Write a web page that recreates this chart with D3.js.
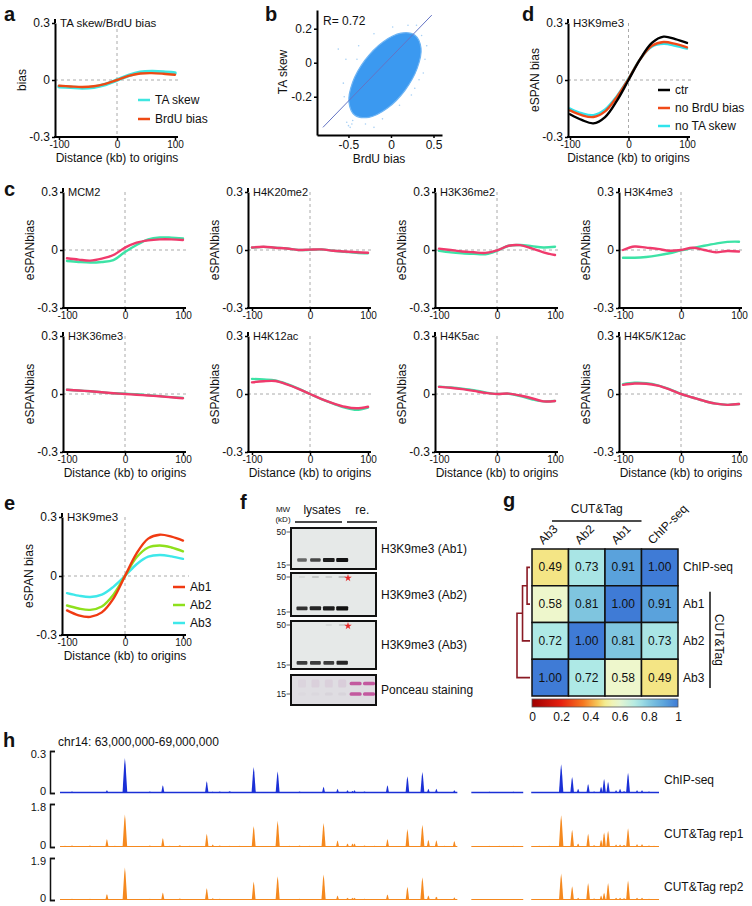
<!DOCTYPE html>
<html><head><meta charset="utf-8">
<script src="https://cdn.jsdelivr.net/npm/d3@7"></script>
<style>
body{margin:0;background:#fff;}
svg text{font-family:"Liberation Sans",Arial,Helvetica,sans-serif;fill:#111;}
</style>
</head><body>
<svg id="fig" width="752" height="906"></svg>
<script>
// ---------------- DATA ----------------
const xKb = [-100,-80,-60,-40,-20,0,20,40,60,80,100];
const xTicks = [-100,0,100];
const yTicks = [-0.3,0,0.3];

// panel a
const aTASkew = [-0.035,-0.038,-0.042,-0.038,-0.024,0,0.024,0.040,0.044,0.042,0.037];
const aBrdU   = [-0.030,-0.034,-0.037,-0.033,-0.020,0,0.022,0.034,0.036,0.033,0.028];

// panel b (outline of the dense point cloud + sparse points)
const bR = 0.72;
const bBlob = [[0.282,0.162],[0.353,0.086],[0.309,-0.032],[0.165,-0.162],[-0.044,-0.268],[-0.259,-0.321],[-0.424,-0.309],[-0.494,-0.233],[-0.451,-0.115],[-0.306,0.015],[-0.098,0.121],[0.118,0.174]];
const bOutliers = [[-0.50,-0.37],[-0.48,-0.38],[-0.46,-0.36],[-0.52,-0.35],[-0.53,0.02],[-0.55,-0.2],[-0.38,0.1],[-0.2,0.17],[0.02,0.21],[0.2,0.22],[0.36,0.16],[0.4,0.02],[0.33,-0.1],[0.24,-0.19],[0.1,-0.25],[-0.1,-0.33],[-0.3,-0.36],[-0.45,-0.34],[-0.56,-0.12],[0.42,0.1],[-0.62,0.08],[0.3,0.22],[-0.2,-0.38],[-0.4,0.02],[0.38,-0.06],[0.28,-0.15]];
const bFit = [[-0.80,-0.38],[0.48,0.28]];

// panel d
const dCtr     = [-0.180,-0.210,-0.228,-0.195,-0.110,0.000,0.110,0.195,0.228,0.215,0.195];
const dNoBrdU  = [-0.160,-0.185,-0.195,-0.165,-0.090,0.005,0.110,0.180,0.200,0.190,0.172];
const dNoTA    = [-0.150,-0.175,-0.185,-0.155,-0.085,0.008,0.110,0.175,0.190,0.180,0.165];

// panel c
const cMarks = ["MCM2","H4K20me2","H3K36me2","H3K4me3","H3K36me3","H4K12ac","H4K5ac","H4K5/K12ac"];
const cPink = [
  [-0.043,-0.050,-0.055,-0.045,-0.026,0.012,0.038,0.050,0.055,0.055,0.052],
  [0.013,0.017,0.012,0.008,0.000,0.002,0.003,-0.004,-0.008,-0.012,-0.014],
  [0.007,0.000,-0.008,-0.012,-0.015,-0.002,0.022,0.025,0.008,-0.012,-0.026],
  [0.000,0.018,0.012,0.006,-0.004,0.000,0.012,0.000,-0.012,-0.005,-0.008],
  [0.022,0.018,0.014,0.009,0.004,0.000,-0.004,-0.008,-0.012,-0.017,-0.022],
  [0.060,0.066,0.067,0.050,0.027,0.000,-0.026,-0.048,-0.066,-0.074,-0.066],
  [0.037,0.032,0.025,0.016,0.006,0.000,0.002,-0.008,-0.022,-0.038,-0.036],
  [0.047,0.054,0.053,0.043,0.024,0.000,-0.018,-0.036,-0.050,-0.056,-0.052]
];
const cGreen = [
  [-0.057,-0.062,-0.065,-0.062,-0.052,-0.010,0.026,0.055,0.065,0.064,0.060],
  [0.012,0.016,0.012,0.008,0.000,0.001,0.003,-0.004,-0.009,-0.014,-0.017],
  [-0.004,-0.012,-0.017,-0.020,-0.022,-0.004,0.022,0.026,0.020,0.013,0.017],
  [-0.040,-0.040,-0.036,-0.028,-0.017,-0.002,0.010,0.022,0.033,0.042,0.043],
  [0.022,0.018,0.014,0.009,0.004,0.002,-0.001,-0.006,-0.011,-0.016,-0.020],
  [0.078,0.075,0.070,0.052,0.028,0.000,-0.027,-0.050,-0.070,-0.082,-0.070],
  [0.038,0.034,0.028,0.020,0.008,0.000,0.001,-0.011,-0.027,-0.038,-0.036],
  [0.051,0.058,0.056,0.045,0.025,0.000,-0.018,-0.036,-0.050,-0.056,-0.052]
];

// panel e
const eAb1 = [-0.175,-0.200,-0.208,-0.185,-0.115,0.000,0.115,0.190,0.210,0.200,0.180];
const eAb2 = [-0.150,-0.165,-0.172,-0.155,-0.095,0.000,0.095,0.145,0.155,0.145,0.125];
const eAb3 = [-0.087,-0.100,-0.107,-0.095,-0.055,0.000,0.060,0.098,0.107,0.100,0.087];

// panel f (western blot band intensities per lane)
const fLanes = ["1","2","3","4","5","6"];
const fAb1Main = [0.6,0.75,0.95,1,0,0];
const fAb2Main = [0.85,0.9,0.95,1,0,0];
const fAb2High = [0.08,0.2,0.15,0.25,0,0];
const fAb3Main = [0.8,0.8,0.8,0.9,0,0];
const fAb3High = [0,0,0.08,0.15,0,0];
const fPonHigh = [0.15,0.2,0.2,0.25,0.9,0.9];
const fPonLow  = [0.04,0.05,0.1,0.1,0.9,0.9];

// panel g
const gRows = ["ChIP-seq","Ab1","Ab2","Ab3"];
const gCols = ["Ab3","Ab2","Ab1","ChIP-seq"];
const gChIP = [0.49,0.73,0.91,1.00];
const gAb1  = [0.58,0.81,1.00,0.91];
const gAb2  = [0.72,1.00,0.81,0.73];
const gAb3  = [1.00,0.72,0.58,0.49];
const gBarTicks = [0,0.2,0.4,0.6,0.8,1];

// panel h
const hPeakPos = [63.47,63.65,64.03,64.47,64.53,64.94,65.18,65.64,65.78,65.88,65.93,65.95,66.28,66.48,66.63,66.69,66.77,66.95,67.30,67.54,68.02,68.13,68.19,68.29,68.42,68.45,68.49,68.57,68.61,68.69,68.78,68.83];
const hChIP = [0.02,0.25,0.055,0.085,0.01,0.185,0.155,0.045,0.03,0.02,0.015,0.02,0.055,0.12,0.15,0.03,0.03,0.02,0.01,0.01,0.205,0.115,0.03,0.065,0.045,0.10,0.08,0.02,0.03,0.145,0.02,0.02];
const hRep1 = [0.33,1.36,0.38,0.55,0.1,0.88,1.1,1.0,0.27,0.15,0.15,0.15,0.33,0.75,0.93,0.3,0.28,0.25,0.05,0.05,1.33,0.72,0.15,0.55,0.3,0.61,0.68,0.1,0.1,0.79,0.12,0.12];
const hRep2 = [0.27,1.47,0.34,0.54,0.08,0.84,1.07,1.15,0.2,0.1,0.1,0.1,0.25,0.6,1.03,0.2,0.15,0.12,0.04,0.04,1.2,0.62,0.1,0.77,0.2,0.33,0.77,0.1,0.1,0.88,0.1,0.1];
const hNoisePos = [63.05,63.12,63.2,63.3,63.38,63.55,63.8,63.9,64.1,64.2,64.3,64.6,64.7,64.8,65.05,65.3,65.4,65.5,66.05,66.15,66.4,66.85,67.2,67.4,67.6,67.8,67.9,68.35,68.65,68.9,68.95];
const hNoiseChIP = [0.008,0.01,0.006,0.008,0.006,0.008,0.005,0.01,0.006,0.008,0.007,0.01,0.012,0.008,0.006,0.008,0.01,0.007,0.01,0.008,0.006,0.006,0.005,0.008,0.006,0.006,0.008,0.01,0.012,0.01,0.008];
const hNoiseRep = [0.05,0.06,0.04,0.06,0.04,0.05,0.04,0.06,0.05,0.07,0.05,0.06,0.05,0.05,0.04,0.05,0.06,0.05,0.06,0.05,0.04,0.05,0.04,0.05,0.04,0.05,0.05,0.07,0.08,0.06,0.05];
const hGaps = [[66.98,67.12],[67.64,67.72]];
const hTracks = ["ChIP-seq","CUT&Tag rep1","CUT&Tag rep2"];
const hMax = [0.3,1.8,1.9];

// ---------------- DRAWING ----------------
const svg = d3.select("#fig");
svg.append("rect").attr("width",752).attr("height",906).attr("fill","#fff");
const fmt = d => d===0 ? "0" : String(d);

function letter(t,x,y){
  svg.append("text").attr("x",x).attr("y",y).attr("font-size",20).attr("font-weight","bold").text(t);
}

function profile(p){
  const g = svg.append("g");
  const x = d3.scaleLinear().domain([-100,100]).range([p.xl,p.xr]);
  const y = d3.scaleLinear().domain([-0.3,0.3]).range([p.yb,p.yt]);
  g.append("line").attr("x1",x(0)).attr("x2",x(0)).attr("y1",y(0.3)).attr("y2",y(-0.3))
    .attr("stroke","#aaa").attr("stroke-dasharray","3,3").attr("stroke-width",1);
  g.append("line").attr("x1",p.ax).attr("x2",x(100)+6).attr("y1",y(0)).attr("y2",y(0))
    .attr("stroke","#aaa").attr("stroke-dasharray","3,3").attr("stroke-width",1);
  const line = d3.line().x((d,i)=>x(xKb[i])).y(d=>y(d)).curve(d3.curveCatmullRom.alpha(0.5));
  p.series.forEach(s=>{
    g.append("path").attr("d",line(s.v)).attr("fill","none").attr("stroke",s.c)
      .attr("stroke-width",s.w||2.4).attr("stroke-linecap","round");
  });
  const ya = g.append("g").attr("transform",`translate(${p.ax},0)`)
    .call(d3.axisLeft(y).tickValues(yTicks).tickSize(3).tickSizeOuter(0).tickFormat(fmt));
  ya.select(".domain").attr("stroke","#000").attr("stroke-width",2);
  ya.selectAll(".tick line").attr("stroke","#000").attr("stroke-width",1.5);
  ya.selectAll(".tick text").attr("font-size",12).attr("font-family",null).attr("x",-5);
  g.append("line").attr("x1",p.ax).attr("x2",p.ax).attr("y1",p.yt-4).attr("y2",p.yt)
    .attr("stroke","#000").attr("stroke-width",2);
  const xa = g.append("g").attr("transform",`translate(0,${p.yb})`)
    .call(d3.axisBottom(x).tickValues(xTicks).tickSize(3).tickFormat(d=>String(d)));
  xa.select(".domain").remove();
  xa.selectAll(".tick line").attr("stroke","#000").attr("stroke-width",1.5);
  xa.selectAll(".tick text").attr("font-size",10).attr("font-family",null).attr("y",4);
  g.append("line").attr("x1",p.ax-1).attr("x2",x(100)+3).attr("y1",p.yb).attr("y2",p.yb)
    .attr("stroke","#000").attr("stroke-width",2);
  g.append("text").attr("x",p.ax+5).attr("y",p.yt).attr("dominant-baseline","central")
    .attr("font-size",p.tfs||11.5).text(p.title);
  g.append("text").attr("transform",`translate(${p.ax-33},${y(0)}) rotate(-90)`)
    .attr("text-anchor","middle").attr("dominant-baseline","central").attr("font-size",12).text(p.ylab);
  if(p.xlab){
    g.append("text").attr("x",x(0)).attr("y",p.yb+21).attr("text-anchor","middle")
      .attr("dominant-baseline","central").attr("font-size",12).text(p.xlab);
  }
  if(p.legend){
    p.legend.items.forEach((it,i)=>{
      const yy = p.legend.y + i*p.legend.dy;
      g.append("line").attr("x1",p.legend.x).attr("x2",p.legend.x+12).attr("y1",yy).attr("y2",yy)
        .attr("stroke",it.c).attr("stroke-width",2.5);
      g.append("text").attr("x",p.legend.x+17).attr("y",yy).attr("dominant-baseline","central")
        .attr("font-size",12).text(it.t);
    });
  }
}

const XLAB = "Distance (kb) to origins";

// ---- a ----
letter("a",4,21);
profile({ax:55,xl:59,xr:175,yt:23,yb:137,title:"TA skew/BrdU bias",ylab:"bias",xlab:XLAB,
  series:[{v:aTASkew,c:"#3fe6e0",w:3.6},{v:aBrdU,c:"#ee4a14",w:2.4}],
  legend:{x:138,y:100,dy:19,items:[{t:"TA skew",c:"#3fe6e0"},{t:"BrdU bias",c:"#ee4a14"}]}});

// ---- b ----
letter("b",265,21);
(function(){
  const g = svg.append("g");
  const x = d3.scaleLinear().domain([-0.87,0.6]).range([317,442]);
  const y = d3.scaleLinear().domain([-0.425,0.31]).range([135,10]);
  g.selectAll("circle.o").data(bOutliers).join("circle").attr("cx",d=>x(d[0])).attr("cy",d=>y(d[1]))
    .attr("r",0.8).attr("fill","#a8d0f4");
  const blob = d3.line().x(d=>x(d[0])).y(d=>y(d[1])).curve(d3.curveCatmullRomClosed.alpha(0.5));
  g.append("path").attr("d",blob(bBlob)).attr("fill","#3b99f0").attr("stroke","#6db4f4").attr("stroke-width",1.2);
  const fl = d3.line().x(d=>x(d[0])).y(d=>y(d[1]));
  g.append("path").attr("d",fl(bFit)).attr("stroke","#6474c4").attr("stroke-width",1).attr("fill","none");
  const ya = g.append("g").attr("transform","translate(317,0)")
    .call(d3.axisLeft(y).tickValues([-0.2,0,0.2]).tickSize(3).tickSizeOuter(0).tickFormat(fmt));
  ya.select(".domain").attr("stroke","#000").attr("stroke-width",2);
  ya.selectAll(".tick line").attr("stroke-width",1.5);
  ya.selectAll(".tick text").attr("font-size",12).attr("font-family",null).attr("x",-5);
  const xa = g.append("g").attr("transform","translate(0,135)")
    .call(d3.axisBottom(x).tickValues([-0.5,0,0.5]).tickSize(3).tickSizeOuter(0).tickFormat(fmt));
  xa.select(".domain").attr("stroke","#000").attr("stroke-width",2);
  xa.selectAll(".tick line").attr("stroke-width",1.5);
  xa.selectAll(".tick text").attr("font-size",12).attr("font-family",null).attr("y",5);
  g.append("text").attr("x",379).attr("y",159).attr("text-anchor","middle").attr("dominant-baseline","central")
    .attr("font-size",12).text("BrdU bias");
  g.append("text").attr("transform","translate(283,72) rotate(-90)").attr("text-anchor","middle")
    .attr("dominant-baseline","central").attr("font-size",12).text("TA skew");
  g.append("text").attr("x",323).attr("y",21).attr("dominant-baseline","central").attr("font-size",12)
    .text("R= " + bR.toFixed(2));
})();

// ---- d ----
letter("d",522,21);
profile({ax:568,xl:570,xr:687,yt:23,yb:137,title:"H3K9me3",ylab:"eSPAN bias",xlab:XLAB,
  series:[{v:dNoTA,c:"#30e4ec"},{v:dNoBrdU,c:"#f04a18"},{v:dCtr,c:"#000"}],
  legend:{x:658,y:90,dy:18,items:[{t:"ctr",c:"#000"},{t:"no BrdU bias",c:"#f04a18"},{t:"no TA skew",c:"#30e4ec"}]}});

// ---- c ----
letter("c",4,196);
const cAx = [63,248,435,619];
cMarks.forEach((m,i)=>{
  const col = i%4, row = Math.floor(i/4);
  const ax = cAx[col];
  const yt = row===0 ? 192 : 336;
  profile({ax:ax,xl:ax+4,xr:ax+120,yt:yt,yb:yt+116,title:m,ylab:"eSPANbias",xlab: row===1?XLAB:null,tfs:11,
    series:[{v:cGreen[i],c:"#3de3a6"},{v:cPink[i],c:"#f03a6c"}]});
});

// ---- e ----
letter("e",4,510);
profile({ax:62,xl:67,xr:183,yt:517,yb:635,title:"H3K9me3",ylab:"eSPAN bias",xlab:XLAB,
  series:[{v:eAb3,c:"#3ee8ea"},{v:eAb2,c:"#8ee01c"},{v:eAb1,c:"#f03a12"}],
  legend:{x:173,y:587,dy:18,items:[{t:"Ab1",c:"#f03a12"},{t:"Ab2",c:"#8ee01c"},{t:"Ab3",c:"#3ee8ea"}]}});

// ---- f ----
letter("f",240,509);
(function(){
  const g = svg.append("g");
  const lx = d3.scalePoint().domain(fLanes).range([302,369]);
  g.append("text").attr("x",283).attr("y",512).attr("text-anchor","middle").attr("font-size",8).text("MW");
  g.append("text").attr("x",283).attr("y",522).attr("text-anchor","middle").attr("font-size",8).text("(kD)");
  g.append("text").attr("x",(lx("1")+lx("4"))/2).attr("y",514).attr("text-anchor","middle").attr("font-size",12).text("lysates");
  g.append("line").attr("x1",295).attr("x2",342).attr("y1",522).attr("y2",522).attr("stroke","#111").attr("stroke-width",1.5);
  g.append("text").attr("x",(lx("5")+lx("6"))/2).attr("y",514).attr("text-anchor","middle").attr("font-size",12).text("re.");
  g.append("line").attr("x1",347).attr("x2",377).attr("y1",522).attr("y2",522).attr("stroke","#111").attr("stroke-width",1.5);

  const boxes = [
    {top:528,bot:569,label:"H3K9me3 (Ab1)",mw:[50,15],bands:[{v:fAb1Main,kd:18}],star:false},
    {top:573,bot:616,label:"H3K9me3 (Ab2)",mw:[50,15],bands:[{v:fAb2Main,kd:17},{v:fAb2High,kd:50}],star:true},
    {top:621,bot:669,label:"H3K9me3 (Ab3)",mw:[50,15],bands:[{v:fAb3Main,kd:16},{v:fAb3High,kd:50}],star:true},
    {top:675,bot:705,label:"Ponceau staining",mw:[15],bands:[],pon:true}
  ];
  boxes.forEach(b=>{
    g.append("rect").attr("x",291).attr("y",b.top).attr("width",85).attr("height",b.bot-b.top)
      .attr("fill", b.pon ? "#dfdde2" : "#e6e9e8").attr("stroke","#111").attr("stroke-width",2);
    const ky = b.pon ? d3.scaleLog().domain([15,50]).range([b.bot-11,b.bot-44])
                     : d3.scaleLog().domain([15,50]).range([b.bot-4,b.top+4]);
    b.mw.forEach(k=>{
      g.append("text").attr("x",286).attr("y",ky(k)).attr("text-anchor","end").attr("dominant-baseline","central")
        .attr("font-size",8.5).attr("fill","#333").text(k);
      g.append("line").attr("x1",286.5).attr("x2",290).attr("y1",ky(k)).attr("y2",ky(k)).attr("stroke","#333").attr("stroke-width",0.8);
    });
    b.bands.forEach(bd=>{
      bd.v.forEach((v,i)=>{
        if(v<=0) return;
        const w = 6 + 6*v, h = bd.kd===50 ? 1.5 : 2.2 + 2*v;
        g.append("rect").attr("x",lx(fLanes[i])-w/2).attr("y",ky(bd.kd)-h/2).attr("width",w).attr("height",h)
          .attr("rx",1).attr("fill","#111").attr("opacity",Math.min(1,v));
      });
    });
    if(b.star){
      g.append("path").attr("d",d3.symbol(d3.symbolStar,18)()).attr("transform",`translate(348,${ky(50)+1})`).attr("fill","#e82a2a");
    }
    if(b.pon){
      fPonHigh.forEach((v,i)=>{
        const big = i>=4;
        g.append("rect").attr("x",lx(fLanes[i])-(big?6:4)).attr("y",ky(22)-(big?1.7:4)).attr("width",big?12:8).attr("height",big?3.4:8)
          .attr("rx",1.5).attr("fill",big?"#c04a98":"#c9a0c4").attr("opacity",v);
      });
      fPonLow.forEach((v,i)=>{
        const big = i>=4;
        g.append("rect").attr("x",lx(fLanes[i])-(big?6:4)).attr("y",ky(15)-(big?1.7:1.5)).attr("width",big?12:8).attr("height",big?3.4:3)
          .attr("rx",1.5).attr("fill",big?"#c04a98":"#a08aa0").attr("opacity",v);
      });
    }
    g.append("text").attr("x",381).attr("y",(b.top+b.bot)/2).attr("dominant-baseline","central")
      .attr("font-size",12).text(b.label);
  });
})();

// ---- g ----
letter("g",503,507);
(function(){
  const g = svg.append("g");
  const gMatrix = [gChIP,gAb1,gAb2,gAb3];
  const cx = d3.scaleBand().domain(gCols).range([532,678]);
  const ry = d3.scaleBand().domain(gRows).range([549,696]);
  const col = d3.scaleLinear()
    .domain([0,0.2,0.35,0.45,0.5,0.58,0.72,0.81,0.91,1])
    .range(["#9e0000","#e6200f","#f5771f","#f6c95a","#f4ec90","#eef7cc","#aee9e6","#7fc5df","#5aa2dc","#3f7bd6"]);
  gMatrix.forEach((row,ri)=>{
    row.forEach((v,ci)=>{
      g.append("rect").attr("x",cx(gCols[ci])).attr("y",ry(gRows[ri])).attr("width",cx.bandwidth()).attr("height",ry.bandwidth())
        .attr("fill",col(v)).attr("stroke","#111").attr("stroke-width",1.5);
      g.append("text").attr("x",cx(gCols[ci])+cx.bandwidth()/2).attr("y",ry(gRows[ri])+ry.bandwidth()/2)
        .attr("text-anchor","middle").attr("dominant-baseline","central").attr("font-size",12).text(v.toFixed(2));
    });
  });
  gRows.forEach(r=>{
    g.append("text").attr("x",683).attr("y",ry(r)+ry.bandwidth()/2).attr("dominant-baseline","central")
      .attr("font-size",12).text(r);
  });
  gCols.forEach(c=>{
    const x0 = cx(c)+cx.bandwidth()/2-7;
    g.append("text").attr("transform",`translate(${x0},545) rotate(-45)`).attr("font-size",12).text(c);
  });
  const l1 = cx("Ab3")+20, l2 = cx("Ab1")+cx.bandwidth();
  g.append("line").attr("x1",l1).attr("x2",l2).attr("y1",521).attr("y2",521).attr("stroke","#111").attr("stroke-width",1.5);
  g.append("text").attr("x",(l1+l2)/2).attr("y",513).attr("text-anchor","middle").attr("font-size",12).text("CUT&Tag");
  const v1 = ry("Ab1")+6, v2 = ry("Ab3")+ry.bandwidth()-8;
  g.append("line").attr("x1",710).attr("x2",710).attr("y1",v1).attr("y2",v2).attr("stroke","#111").attr("stroke-width",1.5);
  g.append("text").attr("transform",`translate(719,${(v1+v2)/2}) rotate(90)`).attr("text-anchor","middle")
    .attr("dominant-baseline","central").attr("font-size",12).text("CUT&Tag");
  const dx = d3.scaleLinear().domain([0,0.4]).range([530,517]);
  const yc = r => ry(r)+ry.bandwidth()/2;
  const n1 = {y:(yc("ChIP-seq")+yc("Ab1"))/2, h:0.09};
  const n2 = {y:(n1.y+yc("Ab2"))/2, h:0.23};
  const n3 = {h:0.40};
  const seg = (a,b,h) => `M${dx(a.h)},${a.y}H${dx(h)}V${b.y}H${dx(b.h)}`;
  const leaf = r => ({y:yc(r),h:0});
  [seg(leaf("ChIP-seq"),leaf("Ab1"),n1.h), seg(n1,leaf("Ab2"),n2.h), seg(n2,leaf("Ab3"),n3.h)].forEach(d=>{
    g.append("path").attr("d",d).attr("fill","none").attr("stroke","#8a1a24").attr("stroke-width",1.6);
  });
  const bx = d3.scaleLinear().domain([0,1]).range([532,678]);
  const grad = svg.append("defs").append("linearGradient").attr("id","cbar");
  d3.range(0,1.0001,0.05).forEach(t=>{
    grad.append("stop").attr("offset",(t*100)+"%").attr("stop-color",col(t));
  });
  g.append("rect").attr("x",bx(0)).attr("y",699).attr("width",bx(1)-bx(0)).attr("height",8)
    .attr("fill","url(#cbar)").attr("stroke","#555").attr("stroke-width",0.8);
  const ba = g.append("g").attr("transform","translate(0,708)")
    .call(d3.axisBottom(bx).tickValues(gBarTicks).tickSize(0).tickFormat(d=> (d===0||d===1)?String(d):d.toFixed(1)));
  ba.select(".domain").remove();
  ba.selectAll(".tick text").attr("font-size",12).attr("font-family",null).attr("y",4);
})();

// ---- h ----
letter("h",3,747);
(function(){
  const g = svg.append("g");
  g.append("text").attr("x",58).attr("y",742).attr("dominant-baseline","central").attr("font-size",12)
    .text("chr14: 63,000,000-69,000,000");
  const x = d3.scaleLinear().domain([63,69]).range([60,659]);
  const tracks = [
    {vals:hChIP, noise:hNoiseChIP, col:"#1b30d6", base:793, top:751},
    {vals:hRep1, noise:hNoiseRep, col:"#f5891f", base:847, top:804},
    {vals:hRep2, noise:hNoiseRep, col:"#f5891f", base:900, top:858}
  ];
  tracks.forEach((t,ti)=>{
    const y = d3.scaleLinear().domain([0,hMax[ti]]).range([t.base,t.top]);
    let segs = []; let s = 63;
    hGaps.forEach(gp=>{ segs.push([s,gp[0]]); s = gp[1]; });
    segs.push([s,69]);
    segs.forEach(sg=>{
      g.append("line").attr("x1",x(sg[0])).attr("x2",x(sg[1])).attr("y1",y(0)-0.5).attr("y2",y(0)-0.5)
        .attr("stroke",t.col).attr("stroke-width",ti===0?1.6:1.2);
    });
    const tri = d3.line().x(d=>x(d[0])).y(d=>y(d[1]));
    hNoisePos.forEach((p,i)=>{
      const w = 0.03;
      g.append("path").attr("d",tri([[p-w,0],[p,t.noise[i]],[p+w,0]])).attr("fill",t.col);
    });
    hPeakPos.forEach((p,i)=>{
      const h = t.vals[i];
      const w = 0.014 + 0.012*h/hMax[ti];
      g.append("path").attr("d",tri([[p-w,0],[p-w*0.3,h*0.8],[p,h],[p+w*0.3,h*0.8],[p+w,0]])).attr("fill",t.col);
    });
    const ya = g.append("g").attr("transform","translate(50,0)")
      .call(d3.axisLeft(y).tickValues([0,hMax[ti]]).tickSize(-5).tickSizeOuter(-5).tickFormat(fmt));
    ya.select(".domain").attr("stroke","#111").attr("stroke-width",1.5);
    ya.selectAll(".tick line").attr("stroke","#111").attr("stroke-width",1.5);
    ya.selectAll(".tick text").attr("font-size",11).attr("font-family",null).attr("x",-4)
      .attr("dy",d=> d===0 ? "0.1em" : "0.55em");
    g.append("text").attr("x",664).attr("y",y(0)-13).attr("dominant-baseline","central").attr("font-size",12).text(hTracks[ti]);
  });
})();
</script>
</body></html>
